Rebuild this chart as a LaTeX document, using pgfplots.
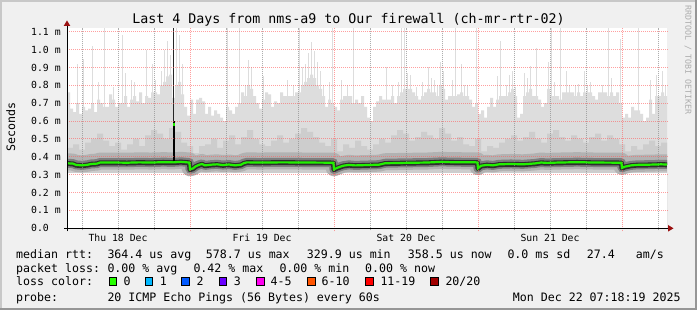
\documentclass[border=0pt]{standalone}
\usepackage{pgfplots}
\pgfplotsset{compat=1.18}
\usepackage{pgfplotstable}
\usepackage{fontspec}
\setmainfont{DejaVu Sans Mono}
\newfontfamily\rrd{DejaVu Sans Mono}
\definecolor{bgc}{HTML}{F0F0F0}
\definecolor{shadeA}{HTML}{C8C8C8}
\definecolor{shadeB}{HTML}{969696}
\definecolor{smokeL}{HTML}{DDDDDD}
\definecolor{smokeM}{HTML}{CDCDCD}
\definecolor{bandA}{HTML}{B2B2B2}
\definecolor{bandB}{HTML}{7E7E7E}
\definecolor{bandC}{HTML}{2E2E2E}
\definecolor{med}{HTML}{22F000}
\definecolor{arrowred}{HTML}{9A1010}
\definecolor{wm}{HTML}{ADADAD}
\definecolor{lcA}{HTML}{26FF00}
\definecolor{lcB}{HTML}{00B8FF}
\definecolor{lcC}{HTML}{0059FF}
\definecolor{lcD}{HTML}{6A00FF}
\definecolor{lcE}{HTML}{FF00F0}
\definecolor{lcF}{HTML}{FF5500}
\definecolor{lcG}{HTML}{FF0000}
\definecolor{lcH}{HTML}{A10000}
\newcommand\legf{\rrd\fontsize{11.6bp}{14bp}\selectfont}
\newcommand\axf{\rrd\fontsize{9.8bp}{12bp}\selectfont}
\newcommand\titf{\rrd\fontsize{13.3bp}{16bp}\selectfont}
\newcommand\wmf{\rrd\fontsize{8.3bp}{10bp}\selectfont}
\newcommand\lgt[3]{\node[font=\legf,anchor=base west,inner sep=0pt] at (#1bp,#2bp) {#3};}
\newcommand\sqb[2]{\filldraw[fill=#2,draw=black,line width=0.8bp] (#1bp,25bp) rectangle ++(7.3bp,7.3bp);}

\pgfplotstableread{
h med
0 0.364
1 0.362
1.5 0.355
2.5 0.352
3.5 0.356
4 0.360
5 0.362
5.5 0.368
8 0.368
10 0.367
12 0.369
14 0.368
16 0.370
17.7 0.369
19 0.372
20.4 0.368
20.5 0.330
21 0.335
21.5 0.348
22 0.355
22.5 0.360
23 0.352
24 0.356
25 0.358
26 0.354
27 0.357
28 0.352
29 0.356
29.5 0.365
30 0.369
32 0.368
36 0.369
40 0.368
44.4 0.367
44.5 0.330
45 0.338
46 0.350
47 0.355
48 0.352
50 0.354
52 0.356
53 0.364
56 0.366
60 0.368
62.5 0.372
64 0.370
68.4 0.369
68.5 0.336
69 0.350
70 0.355
71 0.352
72 0.358
74 0.360
76 0.358
78 0.363
79 0.368
80 0.366
82 0.368
85 0.370
88 0.368
92.4 0.367
92.5 0.338
93 0.345
94 0.352
95 0.355
97 0.356
99 0.358
100 0.357
}\medtab

\begin{document}
\begin{tikzpicture}
\useasboundingbox (0,0) rectangle (697bp,310bp);
\fill[bgc] (0,0) rectangle (697bp,310bp);
\fill[shadeA] (0,308bp) rectangle (697bp,310bp);
\fill[shadeA] (0,0) rectangle (2bp,310bp);
\fill[shadeB] (0,0) rectangle (697bp,2bp);
\fill[shadeB] (695bp,0) rectangle (697bp,310bp);

\begin{axis}[
  at={(67bp,81.7bp)}, anchor=south west,
  scale only axis, width=600bp, height=200.3bp,
  xmin=0, xmax=100, ymin=0, ymax=1.1209,
  axis line style={draw=none},
  axis background/.style={fill=white},
  clip mode=individual,
  xtick={8.5,32.5,56.5,80.5},
  xticklabels={Thu 18 Dec,Fri 19 Dec,Sat 20 Dec,Sun 21 Dec},
  ytick={0,0.1,0.2,0.3,0.4,0.5,0.6,0.7,0.8,0.9,1.0,1.1},
  yticklabels={0.0,0.1 m,0.2 m,0.3 m,0.4 m,0.5 m,0.6 m,0.7 m,0.8 m,0.9 m,1.0 m,1.1 m},
  major tick length=0pt,
  tick label style={font=\axf, inner sep=0pt},
  xticklabel style={anchor=base, yshift=-13.4bp},
  yticklabel style={anchor=west, xshift=-36bp},
]
% light smoke mass
\addplot[const plot, fill=smokeL, draw=none] coordinates {
(0,.76)(0.5,.67)(1,.65)(1.5,.70)(2,.64)(2.5,.68)(3,.66)(3.5,.67)(4,.70)(4.5,.65)
(5,.72)(5.5,.70)(6,.68)(6.5,.68)(7,.75)(7.5,.72)(8,.68)(8.5,.70)(9,.70)(9.5,.74)
(10,.68)(10.5,.72)(11,.74)(11.5,.71)(12,.76)(12.5,.70)(13,.74)(13.5,.73)(14,.76)(14.5,.76)
(15,.75)(15.5,.80)(16,.82)(16.5,.85)(17,.86)(17.5,.73)(18,.80)(18.5,.82)(19,.75)(19.5,.68)
(20,.63)(20.5,.72)(21,.64)(21.5,.72)(22,.73)(22.5,.71)(23,.64)(23.5,.68)(24,.63)(24.5,.66)
(25,.64)(25.5,.62)(26,.60)(26.5,.68)(27,.66)(27.5,.64)(28,.68)(28.5,.70)(29,.76)(29.5,.74)
(30,.80)(30.5,.78)(31,.74)(31.5,.70)(32,.67)(32.5,.72)(33,.76)(33.5,.75)(34,.68)(34.5,.71)
(35,.70)(35.5,.76)(36,.74)(36.5,.74)(37,.74)(37.5,.74)(38,.76)(38.5,.76)(39,.80)(39.5,.82)
(40,.84)(40.5,.86)(41,.84)(41.5,.80)(42,.78)(42.5,.74)(43,.68)(43.5,.72)(44,.70)(44.5,.68)
(45,.66)(45.5,.72)(46,.74)(46.5,.74)(47,.74)(47.5,.70)(48,.72)(48.5,.70)(49,.74)(49.5,.68)
(50,.62)(50.5,.60)(51,.68)(51.5,.71)(52,.74)(52.5,.72)(53,.72)(53.5,.72)(54,.74)(54.5,.70)
(55,.74)(55.5,.76)(56,.78)(56.5,.78)(57,.78)(57.5,.76)(58,.74)(58.5,.72)(59,.74)(59.5,.76)
(60,.78)(60.5,.76)(61,.76)(61.5,.74)(62,.80)(62.5,.78)(63,.72)(63.5,.74)(64,.74)(64.5,.74)
(65,.75)(65.5,.76)(66,.74)(66.5,.74)(67,.72)(67.5,.68)(68,.70)(68.5,.64)(69,.66)(69.5,.62)
(70,.68)(70.5,.73)(71,.68)(71.5,.72)(72,.74)(72.5,.74)(73,.74)(73.5,.76)(74,.78)(74.5,.74)
(75,.62)(75.5,.64)(76,.74)(76.5,.76)(77,.78)(77.5,.74)(78,.74)(78.5,.72)(79,.68)(79.5,.70)
(80,.78)(80.5,.74)(81,.74)(81.5,.74)(82,.72)(82.5,.76)(83,.76)(83.5,.76)(84,.76)(84.5,.74)
(85,.76)(85.5,.74)(86,.76)(86.5,.76)(87,.76)(87.5,.74)(88,.72)(88.5,.76)(89,.76)(89.5,.76)
(90,.74)(90.5,.76)(91,.74)(91.5,.76)(92,.70)(92.5,.62)(93,.64)(93.5,.62)(94,.68)(94.5,.66)
(95,.66)(95.5,.64)(96,.60)(96.5,.62)(97,.72)(97.5,.64)(98,.74)(98.5,.74)(99,.76)(99.5,.74)
(100,.74)} \closedcycle;
% spikes
\addplot[ycomb, draw=smokeL, line width=1.3bp, mark=none] coordinates {
(1.75,.92)(2.75,.95)(4.25,1.02)(5.25,.82)(6.25,1.12)(7.75,.79)(9.25,1.08)(9.75,.87)(10.75,.83)(11.25,.82)
(13.25,1.0)(14.25,.92)(14.75,.83)(15.75,.88)(16.25,1.0)(16.75,1.05)(17.25,.97)(18.25,1.12)(18.75,1.08)(19.25,.92)
(26.75,1.12)(28.75,1.12)(29.75,.80)(30.25,.94)(30.75,.90)(32.75,.85)(36.75,.83)(37.75,.80)(38.75,1.12)(39.25,.90)
(39.75,.92)(40.25,.98)(40.75,1.04)(41.25,.99)(41.75,.93)(42.25,.88)(42.75,.80)(43.75,.82)(44.25,1.12)(45.75,.83)
(46.75,.80)(47.75,1.12)
(53.25,.90)(54.25,.80)(55.25,.82)(55.75,1.12)(56.25,1.12)(56.75,.87)(57.25,.86)(58.25,.79)(59.25,.82)(60.25,.90)
(60.75,.84)(61.25,.83)(61.75,.80)(62.25,.93)(62.75,.88)(64.25,.83)(64.75,1.12)(65.75,.92)(66.25,.80)(66.75,.80)
(68.25,1.12)(71.75,.85)(72.25,1.05)(73.25,.80)(73.75,.86)(74.25,.88)(74.75,.79)
(76.25,.87)(76.75,.84)(77.25,.91)(78.25,1.01)(80.25,.93)(80.75,1.12)(81.25,.82)(82.25,1.12)(83.25,.88)(83.75,.80)
(84.75,.80)(85.25,.81)(86.25,.88)(86.75,.80)(87.25,.82)(89.25,.80)(90.25,1.12)(90.75,.84)(92.25,1.06)(95.25,1.12)
(97.25,.83)(98.25,.86)(99.25,.88)(99.75,.80)};
% medium smoke
\addplot[const plot, fill=smokeM, draw=none] coordinates {
(0,.45)(1,.47)(2,.44)(3,.48)(4,.50)(5,.53)(6,.49)(7,.46)(8,.48)(9,.44)
(10,.47)(11,.50)(12,.46)(13,.52)(14,.55)(15,.53)(16,.50)(17,.56)(18,.54)(19,.48)
(20,.46)(21,.42)(22,.46)(23,.47)(24,.50)(25,.45)(26,.49)(27,.52)(28,.47)(29,.51)
(30,.55)(31,.50)(32,.47)(33,.46)(34,.49)(35,.52)(36,.48)(37,.50)(38,.53)(39,.56)
(40,.54)(41,.51)(42,.48)(43,.46)(44,.50)(45,.43)(46,.47)(47,.45)(48,.49)(49,.46)
(50,.44)(51,.47)(52,.50)(53,.48)(54,.52)(55,.55)(56,.53)(57,.49)(58,.51)(59,.54)
(60,.52)(61,.50)(62,.56)(63,.53)(64,.49)(65,.51)(66,.47)(67,.46)(68,.50)(69,.43)
(70,.46)(71,.45)(72,.48)(73,.50)(74,.52)(75,.49)(76,.51)(77,.54)(78,.50)(79,.48)
(80,.53)(81,.55)(82,.51)(83,.49)(84,.52)(85,.50)(86,.48)(87,.51)(88,.53)(89,.49)
(90,.52)(91,.50)(92,.47)(93,.43)(94,.46)(95,.44)(96,.47)(97,.49)(98,.46)(99,.48)
(100,.48)} \closedcycle;
% white below the smoke
\addplot[fill=white, draw=none] coordinates {(0,0.312)(100,0.312)} \closedcycle;
% dense smoke around the median
\addplot[draw=bandA, line width=17bp, line join=round, yshift=1.5bp] table[x=h,y=med] {\medtab};
\addplot[draw=bandB, line width=9bp, line join=round] table[x=h,y=med] {\medtab};
\addplot[draw=bandC, line width=5bp, line join=round, yshift=-0.3bp] table[x=h,y=med] {\medtab};
% outlier spike
\addplot[draw=black!85, line width=1bp] coordinates {(17.75,0.60)(17.75,1.12)};
\addplot[draw=black, line width=2bp] coordinates {(17.75,0.37)(17.75,0.60)};
% grid
\pgfplotsinvokeforeach{2.5,8.5,14.5,26.5,32.5,38.5,50.5,56.5,62.5,74.5,80.5,86.5,98.5}{
  \draw[draw=black!45, draw opacity=0.7, line width=1bp, dash pattern=on 1bp off 1bp] (axis cs:#1,-0.012) -- (axis cs:#1,1.1209);
}
\pgfplotsinvokeforeach{20.5,44.5,68.5,92.5}{
  \draw[draw={rgb,255:red,255;green,95;blue,95}, draw opacity=0.6, line width=1bp, dash pattern=on 1bp off 1bp] (axis cs:#1,-0.017) -- (axis cs:#1,1.1209);
}
\pgfplotsinvokeforeach{0.1,0.2,0.3,0.4,0.5,0.6,0.7,0.8,0.9,1.0,1.1}{
  \draw[draw={rgb,255:red,255;green,95;blue,95}, draw opacity=0.6, line width=1bp, dash pattern=on 1bp off 1bp] (axis cs:0,#1) -- (axis cs:100.2,#1);
}
% median
\addplot[draw=med, line width=2.2bp] table[x=h,y=med] {\medtab};
\addplot[draw=med, line width=2bp] coordinates {(17.75,0.572)(17.75,0.592)};
\end{axis}

% axes
\draw[black, line width=1bp] (64bp,81.7bp) -- (669bp,81.7bp);
\fill[arrowred] (668bp,85bp) -- (673.5bp,81.7bp) -- (668bp,78.4bp) -- cycle;
\draw[black, line width=1bp] (67bp,78.7bp) -- (67bp,285bp);
\fill[arrowred] (63.7bp,284bp) -- (67bp,289.5bp) -- (70.3bp,284bp) -- cycle;

% texts
\node[font=\titf, anchor=base, inner sep=0pt] at (348.5bp,286bp) {Last 4 Days from nms-a9 to Our firewall (ch-mr-rtr-02)};
\node[font=\legf, rotate=90, anchor=base, inner sep=0pt] at (15bp,183bp) {Seconds};
\node[font=\wmf, text=wm, rotate=-90, anchor=center, inner sep=0pt] at (688bp,250bp) {RRDTOOL / TOBI OETIKER};

\lgt{16}{51.7}{median rtt:}
\lgt{107.3}{51.7}{364.4 us avg}
\lgt{205.7}{51.7}{578.7 us max}
\lgt{306.7}{51.7}{329.9 us min}
\lgt{407.7}{51.7}{358.5 us now}
\lgt{507.3}{51.7}{0.0 ms sd}
\lgt{586.7}{51.7}{27.4}
\lgt{635.7}{51.7}{am/s}

\lgt{16}{37.3}{packet loss:}
\lgt{107.3}{37.3}{0.00 \% avg}
\lgt{193.3}{37.3}{0.42 \% max}
\lgt{279.3}{37.3}{0.00 \% min}
\lgt{365}{37.3}{0.00 \% now}

\lgt{16}{24.7}{loss color:}
\sqb{109.3}{lcA}\lgt{123.3}{24.7}{0}
\sqb{145}{lcB}\lgt{159.7}{24.7}{1}
\sqb{181.7}{lcC}\lgt{196.3}{24.7}{2}
\sqb{219}{lcD}\lgt{233.6}{24.7}{3}
\sqb{256.7}{lcE}\lgt{270.5}{24.7}{4-5}
\sqb{307.7}{lcF}\lgt{321.5}{24.7}{6-10}
\sqb{365.7}{lcG}\lgt{380.3}{24.7}{11-19}
\sqb{430.7}{lcH}\lgt{445.3}{24.7}{20/20}

\lgt{16}{9}{probe:}
\lgt{107.3}{9}{20 ICMP Echo Pings (56 Bytes) every 60s}
\lgt{512.7}{9}{Mon Dec 22 07:18:19 2025}
\end{tikzpicture}
\end{document}
